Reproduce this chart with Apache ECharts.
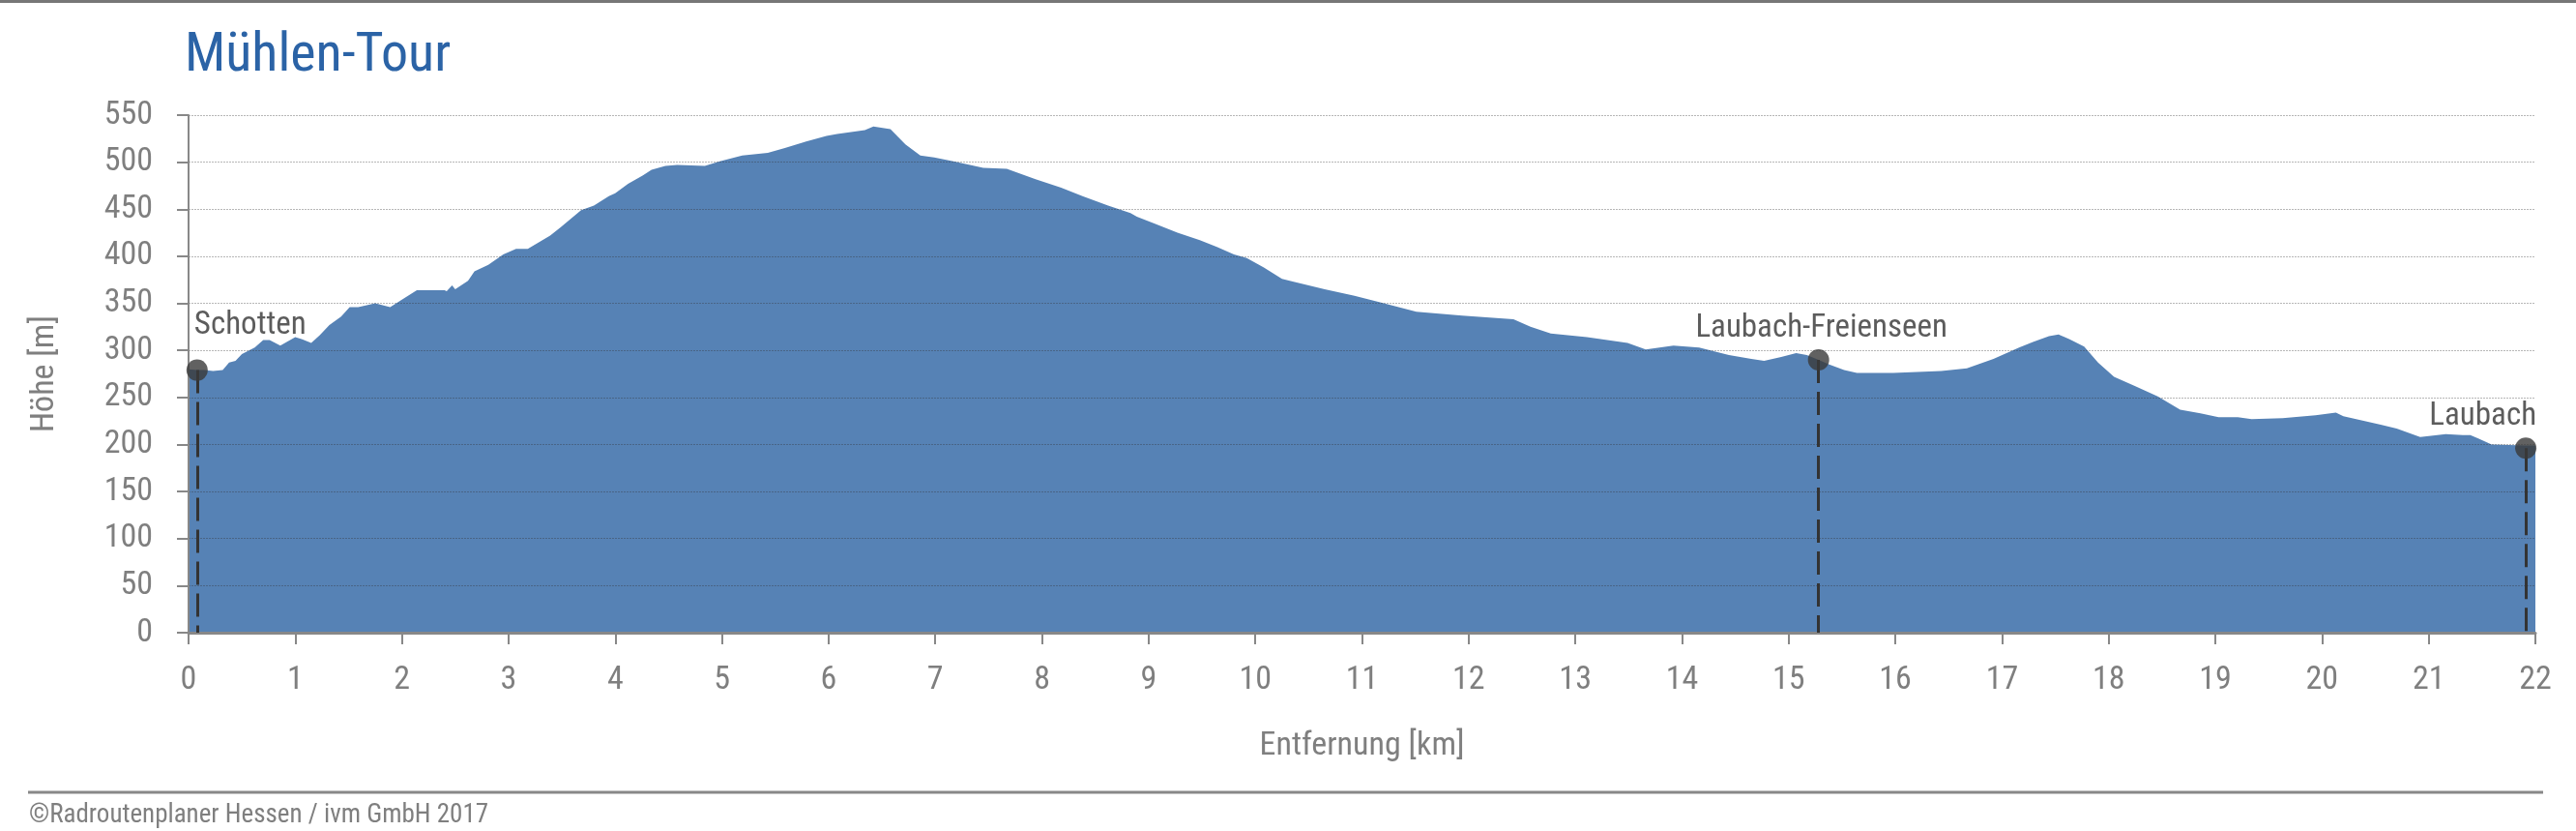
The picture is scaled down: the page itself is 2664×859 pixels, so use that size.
<!DOCTYPE html>
<html>
<head>
<meta charset="utf-8">
<script src="https://cdn.jsdelivr.net/npm/echarts@6/dist/echarts.min.js"></script>
<style>
html,body{margin:0;padding:0;background:#fff;}
#chart{width:2664px;height:859px;}
</style>
</head>
<body>
<div id="chart"></div>
<script>
// ---- data ----
var titleText = 'Mühlen-Tour';
var yAxisName = 'Höhe [m]';
var xAxisName = 'Entfernung [km]';
var creditText = '©Radroutenplaner Hessen / ivm GmbH 2017';

var distanceKm = [0.00,0.08,0.15,0.23,0.32,0.38,0.44,0.50,0.62,0.70,0.76,0.86,0.92,1.00,1.06,1.15,1.23,1.32,1.43,1.51,1.59,1.75,1.89,2.00,2.14,2.40,2.42,2.47,2.50,2.62,2.68,2.81,2.95,3.07,3.18,3.39,3.49,3.68,3.80,3.94,4.00,4.12,4.26,4.34,4.47,4.58,4.84,4.98,5.19,5.43,5.59,5.79,5.98,6.08,6.34,6.42,6.58,6.72,6.86,6.99,7.17,7.45,7.67,7.94,8.18,8.38,8.62,8.83,8.89,9.07,9.27,9.48,9.64,9.80,9.92,10.08,10.25,10.36,10.65,10.93,11.17,11.51,11.94,12.42,12.58,12.77,13.11,13.49,13.66,13.92,14.16,14.44,14.65,14.77,14.93,15.07,15.17,15.28,15.38,15.52,15.64,15.98,16.43,16.67,16.92,17.16,17.29,17.44,17.53,17.63,17.77,17.90,18.05,18.25,18.46,18.67,18.86,19.03,19.21,19.34,19.63,19.94,20.13,20.20,20.40,20.55,20.70,20.92,21.16,21.32,21.39,21.47,21.59,21.91,22.00];
var elevationM = [280,279,279,278,279,287,289,296,303,311,311,305,309,314,312,308,316,327,336,346,346,350,346,354,364,364,363,369,365,374,384,391,402,408,408,422,431,449,454,464,467,477,486,492,496,497,496,501,507,510,515,522,528,530,534,538,535,519,507,505,501,494,493,482,473,464,454,446,442,434,425,417,410,402,398,388,376,373,365,358,351,341,337,333,325,318,314,308,301,305,303,295,291,289,293,297,295,290,285,279,276,276,278,281,291,303,309,315,317,312,304,287,272,262,251,237,233,229,229,227,228,231,234,230,225,221,217,208,211,210,210,206,200,199,199];

var placeNames = ['Schotten','Laubach-Freienseen','Laubach'];
var placeKm = [0.08, 15.28, 21.91];
var placeElev = [279, 290, 196];

// ---- styling / layout (not data) ----
var FONT = '"Roboto Condensed","Liberation Sans Narrow","DejaVu Sans Condensed",Roboto,sans-serif';
var GRAY = '#7f7f7f';
var labelLayouts = [
  {align:'left', offset:[-3,-35]},
  {align:'center', offset:[3,-21]},
  {align:'right', offset:[11,-22]}
];

var profile = distanceKm.map(function(d,i){return [d, elevationM[i]];});
var places = placeNames.map(function(n,i){
  return {
    name:n,
    value:[placeKm[i], placeElev[i]],
    label:{show:true, formatter:n, position:'top', distance:0, verticalAlign:'middle',
      align:labelLayouts[i].align, offset:labelLayouts[i].offset,
      color:'#333', fontSize:33, fontFamily:FONT}
  };
});
var dropLines = placeKm.map(function(k,i){
  return [{coord:[k, placeElev[i]]},{coord:[k, 0]}];
});

var chart = echarts.init(document.getElementById('chart'), null, {renderer:'canvas'});
chart.setOption({
  animation:false,
  textStyle:{fontFamily:FONT},
  title:{text:titleText, left:186, top:26,
    textStyle:{color:'#2b63a6', fontSize:56, fontWeight:'normal', fontFamily:FONT}},
  grid:{left:195, right:42, top:119, bottom:205, containLabel:false},
  xAxis:{type:'value', min:0, max:22, interval:1, z:3,
    name:xAxisName, nameLocation:'middle', nameGap:100,
    nameTextStyle:{color:GRAY, fontSize:34, fontFamily:FONT},
    axisLine:{show:true, onZero:false, lineStyle:{color:'#888', width:3}},
    axisTick:{show:true, length:12, lineStyle:{color:'#888', width:2}},
    axisLabel:{color:GRAY, fontSize:34, margin:32, fontFamily:FONT},
    splitLine:{show:false}},
  yAxis:{type:'value', min:0, max:550, interval:50, z:3,
    name:yAxisName, nameLocation:'middle', nameGap:132, nameRotate:90,
    nameTextStyle:{color:GRAY, fontSize:34, fontFamily:FONT},
    axisLine:{show:true, lineStyle:{color:'#888', width:2}},
    axisTick:{show:true, length:12, lineStyle:{color:'#888', width:2}},
    axisLabel:{color:GRAY, fontSize:34, margin:37, fontFamily:FONT},
    splitLine:{show:true, lineStyle:{color:'rgba(50,50,50,0.35)', width:1, type:[2,1]}}},
  series:[
    {type:'line', data:profile, showSymbol:false, symbol:'none', z:2,
      lineStyle:{width:0}, areaStyle:{color:'#5682b5', opacity:1}},
    {type:'scatter', data:places, symbol:'circle', symbolSize:22, z:5,
      itemStyle:{color:'#3a3a3a'},
      markLine:{symbol:'none', silent:true, label:{show:false},
        lineStyle:{color:'#333', width:3, type:[24,9]}, data:dropLines}}
  ],
  graphic:[
    {type:'line', shape:{x1:0,y1:1.5,x2:2664,y2:1.5}, style:{stroke:'#777', lineWidth:3}},
    {type:'line', shape:{x1:29,y1:819,x2:2630,y2:819}, style:{stroke:'#888', lineWidth:3}},
    {type:'text', x:30, y:843, style:{text:creditText, fill:GRAY, fontSize:27, fontFamily:FONT, textVerticalAlign:'middle'}}
  ]
});
</script>
</body>
</html>
